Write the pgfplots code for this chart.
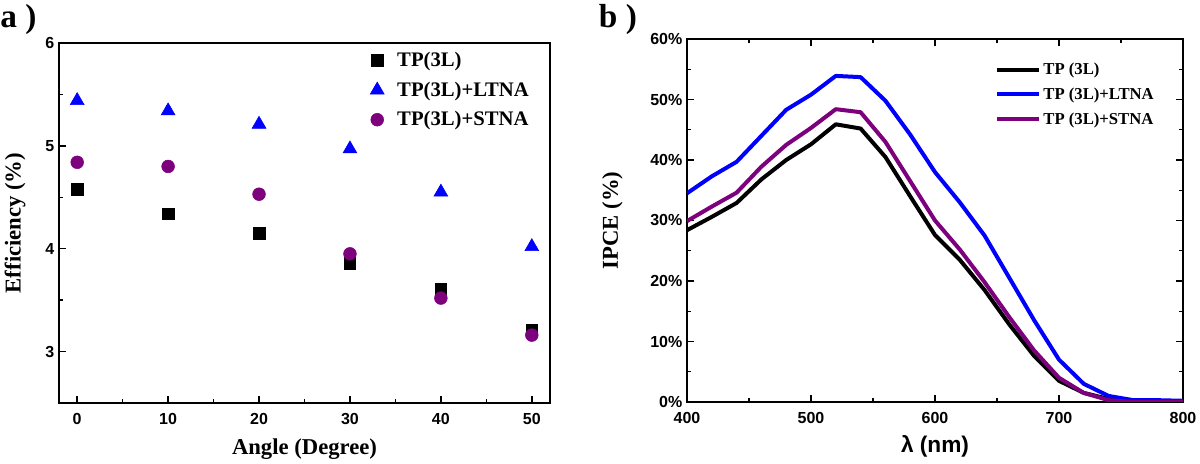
\documentclass[border=0pt]{standalone}
\usepackage{pgfplots}
\pgfplotsset{compat=1.18}
\usepackage{fontspec}
\setmainfont{Liberation Serif}
\setsansfont{Liberation Sans}
\definecolor{tpblue}{RGB}{0,0,255}
\definecolor{tppurple}{RGB}{125,0,125}

\pgfplotsset{
  panel/.style={
    scale only axis,
    axis line style={line width=1.4pt},
    every tick/.style={black, line width=1.1pt},
    major tick length=5pt,
    minor tick length=3pt,
    tick align=inside,
    /pgf/number format/assume math mode=true,
    tick label style={font=\sffamily\bfseries\fontsize{12}{14}\selectfont},
    xticklabel style={yshift=-4pt},
    label style={font=\bfseries\fontsize{17}{20}\selectfont},
    xlabel style={at={(axis description cs:0.5,0)}, anchor=center},
    ylabel style={at={(axis description cs:0,0.5)}, anchor=center},
    legend style={draw=none, fill=none, cells={anchor=west}},
  },
}

\begin{document}
\begin{tikzpicture}
\path[use as bounding box] (0,0) rectangle (900pt,348pt);

\node[anchor=base west, font=\bfseries\fontsize{25}{25}\selectfont, inner sep=0pt] at (0pt,327pt) {a )};
\node[anchor=base west, font=\bfseries\fontsize{25}{25}\selectfont, inner sep=0pt] at (449pt,327pt) {b )};

% panel a
\begin{axis}[panel,
  at={(44.25pt,45.75pt)}, anchor=south west,
  width=368.25pt, height=270pt,
  xmin=-2, xmax=52, ymin=2.5, ymax=6,
  xtick={0,10,20,30,40,50}, ytick={3,4,5,6},
  minor x tick num=1, minor y tick num=1,
  xtick pos=bottom, ytick pos=left,
  xlabel={Angle (Degree)}, ylabel={Efficiency (\%)},
  xlabel style={yshift=-34.5pt},
  ylabel style={yshift=33pt},
  legend style={at={(0.615,0.99)}, anchor=north west,
    font=\bfseries\fontsize{15.5}{17}\selectfont, row sep=6pt},
  legend image code/.code={%
    \path[draw=none, fill=none] (0pt,0pt) -- (22pt,0pt);
    \draw[#1] plot coordinates {(9pt,0pt)};},
]
\addplot[only marks, mark=square*, mark size=4.3pt, black] coordinates {
  (0,4.58) (10,4.34) (20,4.15) (30,3.86) (40,3.61) (50,3.21)
};
\addplot[only marks, mark=triangle*, mark size=6pt, tpblue] coordinates {
  (0,5.44) (10,5.34) (20,5.21) (30,4.97) (40,4.55) (50,4.02)
};
\addplot[only marks, mark=*, mark size=4.8pt, tppurple] coordinates {
  (0,4.84) (10,4.80) (20,4.53) (30,3.95) (40,3.52) (50,3.16)
};
\legend{TP(3L), TP(3L)+LTNA, TP(3L)+STNA}
\end{axis}

% panel b
\begin{axis}[panel,
  at={(515.25pt,46.5pt)}, anchor=south west,
  width=372pt, height=272.25pt,
  xmin=400, xmax=800, ymin=0, ymax=60,
  xtick={400,500,...,800}, ytick={0,10,...,60},
  yticklabel={\pgfmathprintnumber{\tick}\%},
  minor x tick num=1, minor y tick num=1,
  xtick pos=both, ytick pos=both,
  xlabel={\sffamily\bfseries λ (nm)}, ylabel={IPCE (\%)},
  xlabel style={yshift=-33pt},
  ylabel style={yshift=56pt},
  legend style={at={(0.62,0.95)}, anchor=north west,
    font=\bfseries\fontsize{12.5}{14}\selectfont, row sep=4.5pt,
    inner xsep=0pt},
  legend image code/.code={\draw[#1, line width=3pt] (0pt,0pt) -- (31.5pt,0pt);},
  every axis plot/.append style={line width=3pt, line join=round},
]
\addplot[black] coordinates {
  (400,28.4) (420,30.6) (440,32.9) (460,36.8) (480,40.0) (500,42.6)
  (520,45.9) (540,45.2) (560,40.5) (580,34.0) (600,27.6) (620,23.5)
  (640,18.5) (660,12.8) (680,7.6) (700,3.5) (720,1.5) (740,0.5)
  (760,0.0) (780,0.0) (800,0.0)
};
\addplot[tpblue] coordinates {
  (400,34.5) (420,37.3) (440,39.7) (460,44.0) (480,48.3) (500,50.8)
  (520,53.9) (540,53.7) (560,49.8) (580,44.2) (600,38.0) (620,33.0)
  (640,27.5) (660,20.5) (680,13.5) (700,7.0) (720,3.0) (740,1.0)
  (760,0.3) (780,0.3) (800,0.2)
};
\addplot[tppurple] coordinates {
  (400,29.9) (420,32.3) (440,34.6) (460,38.9) (480,42.5) (500,45.3)
  (520,48.4) (540,47.9) (560,43.0) (580,36.5) (600,30.0) (620,25.2)
  (640,19.8) (660,14.0) (680,8.5) (700,4.0) (720,1.5) (740,0.3)
  (760,0.0) (780,0.0) (800,0.0)
};
\legend{TP (3L), TP (3L)+LTNA, TP (3L)+STNA}
\end{axis}
\end{tikzpicture}
\end{document}
